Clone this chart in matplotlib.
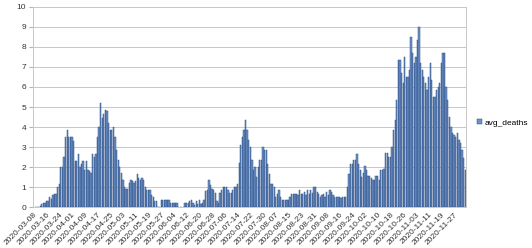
import numpy as np
import pandas as pd
import matplotlib
matplotlib.use("Agg")
import matplotlib.pyplot as plt

plt.rcParams['font.family'] = ['Liberation Sans', 'DejaVu Sans']

# daily values, first day 2020-03-08
start_date = "2020-03-08"
avg_deaths = [
    0, 0, 0, 0, 0.05, 0.15, 0.2, 0.2, 0.3, 0.3,
    0.5, 0.4, 0.6, 0.65, 0.65, 1.0, 1.15, 2.0, 2.0, 2.5,
    3.5, 3.85, 3.5, 3.5, 3.5, 3.3, 2.3, 2.3, 2.65, 2.0,
    2.15, 2.3, 1.85, 2.3, 1.85, 1.8, 1.7, 2.65, 2.5, 2.65,
    3.5, 4.0, 5.2, 4.45, 4.65, 4.85, 4.8, 4.2, 3.85, 3.85,
    4.0, 3.5, 2.85, 2.35, 2.0, 1.7, 1.35, 1.0, 0.9, 0.9,
    1.2, 1.35, 1.3, 1.2, 1.3, 1.65, 1.45, 1.35, 1.45, 1.35,
    1.0, 0.85, 0.85, 0.85, 0.6, 0.5, 0.3, 0.3, 0, 0,
    0.35, 0.35, 0.35, 0.35, 0.35, 0.35, 0.2, 0.2, 0.2, 0.2,
    0.2, 0, 0, 0, 0, 0.2, 0.2, 0.2, 0.3, 0.35,
    0.2, 0.1, 0.3, 0.15, 0.35, 0.15, 0.2, 0.35, 0.8, 0.85,
    1.35, 1.1, 0.9, 0.85, 0.7, 0.3, 0.2, 0.7, 0.85, 1.0,
    1.0, 1.0, 0.85, 0.7, 0.7, 0.85, 1.0, 1.0, 1.15, 2.2,
    3.1, 3.5, 3.85, 4.35, 3.85, 3.35, 3.0, 2.35, 1.85, 2.0,
    1.5, 2.0, 2.35, 2.35, 3.0, 2.85, 2.85, 2.15, 1.65, 1.15,
    1.15, 1.0, 0.5, 0.65, 0.85, 0.5, 0.35, 0.35, 0.35, 0.35,
    0.35, 0.5, 0.65, 0.65, 0.65, 0.65, 0.6, 0.85, 0.65, 0.65,
    0.75, 0.6, 0.85, 0.65, 0.85, 0.7, 1.0, 1.0, 0.75, 0.65,
    0.5, 0.6, 0.65, 0.5, 0.75, 0.6, 0.85, 0.75, 0.6, 0.5,
    0.5, 0.5, 0.5, 0.45, 0.5, 0.5, 0.5, 1.0, 1.65, 2.15,
    2.15, 2.35, 2.35, 2.65, 2.15, 1.85, 1.5, 1.7, 2.05, 1.85,
    1.55, 1.55, 1.45, 1.35, 1.35, 1.55, 1.55, 1.35, 1.85, 1.85,
    1.9, 2.7, 2.7, 2.5, 2.5, 3.0, 3.85, 4.35, 5.35, 7.35,
    7.35, 6.7, 6.2, 7.5, 6.5, 6.5, 6.85, 8.5, 7.7, 7.2,
    7.5, 8.35, 9.0, 7.2, 6.85, 6.5, 6.2, 5.85, 6.5, 7.2,
    6.35, 5.5, 5.5, 5.85, 6.0, 6.2, 7.2, 7.7, 7.7, 6.0,
    5.35, 4.5, 4.0, 3.7, 3.6, 3.5, 3.7, 3.35, 3.2, 2.85,
    2.45, 1.85,
]
dates = pd.date_range(start_date, periods=len(avg_deaths), freq="D")
date_labels = dates.strftime("%Y-%m-%d")
label_step = 8

fig = plt.figure(figsize=(5.32, 2.48), dpi=100)
ax = fig.add_axes([0.062, 0.165, 0.814, 0.807])

x = np.arange(len(avg_deaths))
bars = ax.bar(x, avg_deaths, width=0.8, color="#6f93c6",
              edgecolor="#2c4f86", linewidth=0.35, label="avg_deaths", zorder=2)

ax.set_xlim(-0.5, len(avg_deaths) - 0.5)
ax.set_ylim(0, 10)
ax.set_yticks(range(0, 11))
ax.yaxis.grid(True, color="#c8c8c8", linewidth=0.7, zorder=0)
ax.set_axisbelow(True)

ax.set_xticks(x[::label_step])
ax.set_xticklabels(date_labels[::label_step], rotation=45, ha="right",
                   rotation_mode="anchor", fontsize=6, color="#333333")
ax.tick_params(axis="x", length=0, pad=3)
ax.tick_params(axis="y", length=3, color="#b3b3b3", labelsize=6,
               labelcolor="#333333", pad=2)

for side in ["top", "right", "bottom", "left"]:
    ax.spines[side].set_color("#c8c8c8")
    ax.spines[side].set_linewidth(0.7)

fig.legend(handles=[bars], labels=["avg_deaths"], loc="center left",
           bbox_to_anchor=(0.897, 0.505), frameon=False, fontsize=6,
           handlelength=0.6, handleheight=0.6, handletextpad=0.35,
           borderpad=0, borderaxespad=0)

fig.savefig("out.png", dpi=100)
